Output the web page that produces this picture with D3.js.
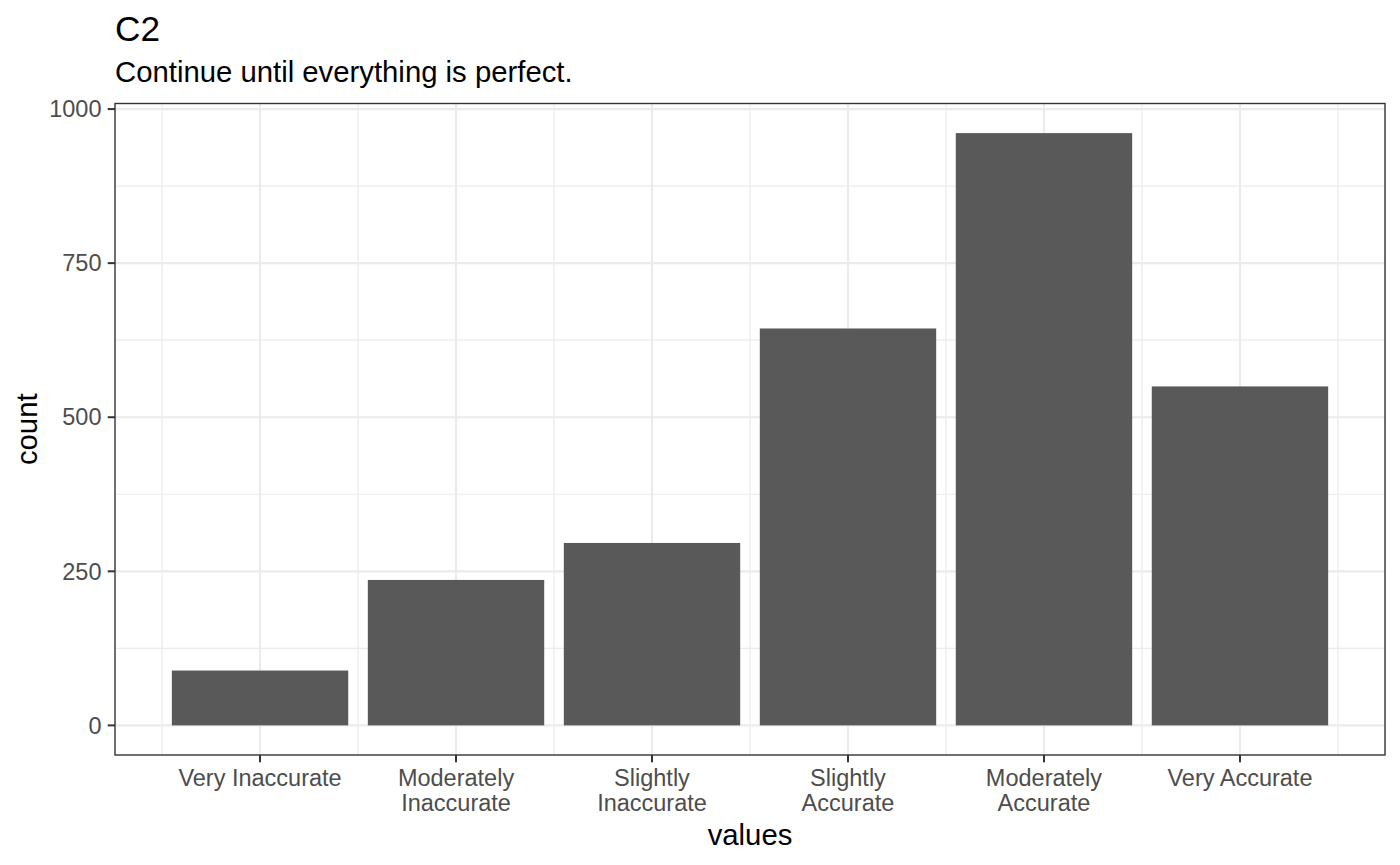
<!DOCTYPE html>
<html>
<head>
<meta charset="utf-8">
<script src="https://cdn.jsdelivr.net/npm/d3@7"></script>
<style>
  body { margin: 0; background: #fff; }
  svg text { font-family: "Liberation Sans", Arial, Helvetica, sans-serif; }
</style>
</head>
<body>
<div id="chart"></div>
<script>
// ---- data ----
var categories = ["Very Inaccurate", "Moderately Inaccurate", "Slightly Inaccurate",
                  "Slightly Accurate", "Moderately Accurate", "Very Accurate"];
var catLines = [["Very Inaccurate"], ["Moderately", "Inaccurate"], ["Slightly", "Inaccurate"],
                ["Slightly", "Accurate"], ["Moderately", "Accurate"], ["Very Accurate"]];
var counts = [89, 236, 296, 644, 961, 550];
var yTicks = [0, 250, 500, 750, 1000];
var yMinor = [125, 375, 625, 875];

// ---- layout ----
var W = 1400, H = 865;
var panel = { left: 115, right: 1385, top: 103.5, bottom: 755 };

var svg = d3.select("#chart").append("svg")
    .attr("width", W)
    .attr("height", H);

svg.append("rect").attr("width", W).attr("height", H).attr("fill", "#fff");

// x: index scale with ggplot-like discrete expansion
var x = d3.scaleLinear()
    .domain([-0.74, categories.length - 1 + 0.74])
    .range([panel.left, panel.right]);
var barW = 0.9;

var maxV = d3.max(counts);
var y = d3.scaleLinear()
    .domain([-0.05 * maxV, 1.05 * maxV])
    .range([panel.bottom, panel.top]);

var grid = svg.append("g");

// minor grid
grid.selectAll(".hminor").data(yMinor).enter().append("line")
    .attr("x1", panel.left).attr("x2", panel.right)
    .attr("y1", function(d) { return y(d); }).attr("y2", function(d) { return y(d); })
    .attr("stroke", "#ebebeb").attr("stroke-width", 1.2);
grid.selectAll(".vminor").data(d3.range(categories.length + 1)).enter().append("line")
    .attr("x1", function(i) { return x(i - 0.5); }).attr("x2", function(i) { return x(i - 0.5); })
    .attr("y1", panel.top).attr("y2", panel.bottom)
    .attr("stroke", "#ebebeb").attr("stroke-width", 1.2);

// major grid
grid.selectAll(".hmajor").data(yTicks).enter().append("line")
    .attr("x1", panel.left).attr("x2", panel.right)
    .attr("y1", function(d) { return y(d); }).attr("y2", function(d) { return y(d); })
    .attr("stroke", "#ebebeb").attr("stroke-width", 2.2);
grid.selectAll(".vmajor").data(categories).enter().append("line")
    .attr("x1", function(d, i) { return x(i); }).attr("x2", function(d, i) { return x(i); })
    .attr("y1", panel.top).attr("y2", panel.bottom)
    .attr("stroke", "#ebebeb").attr("stroke-width", 2.2);

// bars
svg.append("g").selectAll("rect").data(counts).enter().append("rect")
    .attr("x", function(d, i) { return x(i - barW / 2); })
    .attr("width", function(d, i) { return x(i + barW / 2) - x(i - barW / 2); })
    .attr("y", function(d) { return y(d); })
    .attr("height", function(d) { return y(0) - y(d); })
    .attr("fill", "#595959");

// panel border
svg.append("rect")
    .attr("x", panel.left).attr("y", panel.top)
    .attr("width", panel.right - panel.left).attr("height", panel.bottom - panel.top)
    .attr("fill", "none").attr("stroke", "#333333").attr("stroke-width", 1.4);

// y axis ticks + labels
var yAx = svg.append("g");
yAx.selectAll("line").data(yTicks).enter().append("line")
    .attr("x1", panel.left - 7.3).attr("x2", panel.left)
    .attr("y1", function(d) { return y(d); }).attr("y2", function(d) { return y(d); })
    .attr("stroke", "#333333").attr("stroke-width", 2);
yAx.selectAll("text").data(yTicks).enter().append("text")
    .attr("x", panel.left - 13.5)
    .attr("y", function(d) { return y(d); })
    .attr("dy", "0.35em")
    .attr("text-anchor", "end")
    .attr("fill", "#4d4d4d")
    .style("font-size", "23.5px")
    .text(function(d) { return d; });

// x axis ticks + labels
var xAx = svg.append("g");
xAx.selectAll("line").data(categories).enter().append("line")
    .attr("x1", function(d, i) { return x(i); }).attr("x2", function(d, i) { return x(i); })
    .attr("y1", panel.bottom).attr("y2", panel.bottom + 7.3)
    .attr("stroke", "#333333").attr("stroke-width", 2);
xAx.selectAll("text").data(catLines).enter().append("text")
    .attr("text-anchor", "middle")
    .attr("fill", "#4d4d4d")
    .style("font-size", "23.5px")
    .each(function(lines, i) {
      var t = d3.select(this);
      lines.forEach(function(s, k) {
        t.append("tspan")
          .attr("x", x(i))
          .attr("y", 786 + k * 24.5)
          .text(s);
      });
    });

// axis titles
svg.append("text")
    .attr("x", (panel.left + panel.right) / 2)
    .attr("y", 845)
    .attr("text-anchor", "middle")
    .style("font-size", "29.3px")
    .text("values");
svg.append("text")
    .attr("transform", "translate(37," + ((panel.top + panel.bottom) / 2) + ") rotate(-90)")
    .attr("text-anchor", "middle")
    .style("font-size", "29.3px")
    .text("count");

// title + subtitle
svg.append("text")
    .attr("x", panel.left)
    .attr("y", 41)
    .style("font-size", "35.2px")
    .text("C2");
svg.append("text")
    .attr("x", panel.left)
    .attr("y", 82)
    .style("font-size", "29.3px")
    .text("Continue until everything is perfect.");
</script>
</body>
</html>
